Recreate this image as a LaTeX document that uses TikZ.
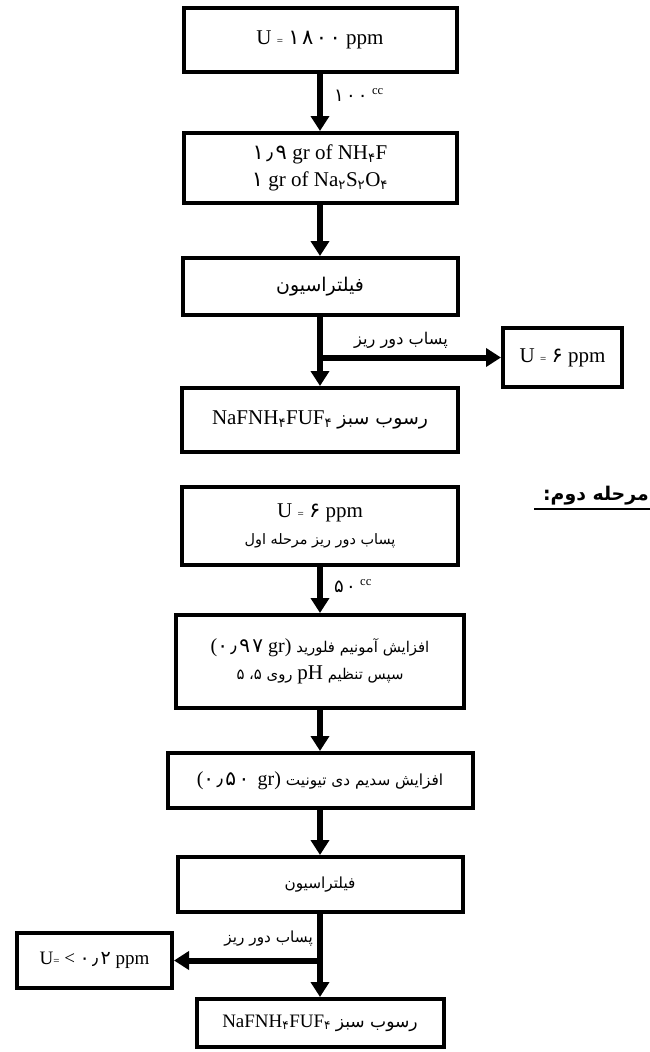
\documentclass[tikz,border=0pt]{standalone}
\usepackage{fontspec}
\setmainfont{Liberation Serif}
\newfontfamily\farsi[Script=Arabic,Scale=0.9]{DejaVu Sans}
\newfontfamily\farsinum[Script=Arabic,LetterSpace=12]{DejaVu Sans}
\TeXXeTstate=1
\usetikzlibrary{arrows.meta,positioning}

\newcommand{\fa}[1]{{\farsi #1}}
\newcommand{\num}[1]{{\farsinum #1}}
\newcommand{\subfa}[1]{\textsubscript{\farsi #1}}
\newcommand{\eq}{{\fontsize{11}{11}\selectfont =}}

\tikzset{
  box/.style={draw, line width=4pt, align=center, inner sep=2pt,
    font=\fontsize{21}{27}\selectfont},
  flow/.style={line width=6pt, -{Triangle[length=15pt,width=18pt]}},
  lbl/.style={inner sep=1pt, font=\fontsize{18}{20}\selectfont}
}

\begin{document}
\begin{tikzpicture}[x=1pt,y=1pt]
    \useasboundingbox (0,0) rectangle (650,-1052);
    % first stage
    \node[box, minimum width=273, minimum height=64] (src) at (320,-40)
        {U \eq{} \num{۱۸۰۰} ppm};
    \node[box, minimum width=273, minimum height=70] (reag) at (320,-168)
        {\num{۱٫۹} gr of NH\subfa{۴}F\\ \num{۱} gr of Na\subfa{۲}S\subfa{۲}O\subfa{۴}};
    \node[box, minimum width=275, minimum height=57] (filt) at (320,-286.5)
        {\fa{\beginR فیلتراسیون\endR}};
    \node[box, minimum width=119, minimum height=59] (waste) at (562.5,-357.5)
        {U \eq{} \num{۶} ppm};
    \node[box, minimum width=276, minimum height=64] (prec) at (320,-420)
        {NaFNH\subfa{۴}FUF\subfa{۴} \fa{\beginR رسوب سبز\endR}};
    \coordinate (b1) at (filt.south |- waste.west);
    \draw[flow] (src.south) -- (reag.north);
    \draw[flow] (reag.south) -- (filt.north);
    \draw[flow] (filt.south) -- (prec.north);
    \draw[flow] (b1) -- (waste.west);
    \node[lbl, anchor=west] (vol) at (333,-95) {\num{۱۰۰} \textsuperscript{cc}};
    \node[lbl] (out) at (401,-340) {\fa{\beginR پساب دور ریز\endR}};
    % second stage
    \node[inner sep=0pt, anchor=east, font=\fontsize{21}{22}\selectfont\bfseries]
        (stage) at (649,-496) {\fa{\beginR مرحله دوم:\endR}};
    \draw[line width=1.5pt] (534,-509) -- (650,-509);
    \node[box, minimum width=276, minimum height=78] (feed) at (320,-526)
        {U \eq{} \num{۶} ppm\\ {\farsi\fontsize{16}{25}\selectfont\beginR پساب دور ریز مرحله اول\endR}};
    \node[box, minimum width=288, minimum height=93] (addf) at (320,-661.5)
        {\fa{\fontsize{16.5}{27}\selectfont\beginR افزایش آمونیم فلورید
           \beginL{\rmfamily\fontsize{20}{27}\selectfont(\num{۰٫۹۷} gr)}\endL\endR}\\
         \fa{\fontsize{16.5}{27}\selectfont\beginR سپس تنظیم
           \beginL{\rmfamily\fontsize{21}{27}\selectfont pH}\endL{} روی ۵\kern0pt، ۵\endR}};
    \node[box, minimum width=305, minimum height=55] (adds) at (320,-780.5)
        {\fa{\fontsize{17}{20}\selectfont\beginR افزایش سدیم دی تیونیت
           \beginL{\rmfamily\fontsize{20}{20}\selectfont(\num{۰٫۵۰}\, gr)}\endL\endR}};
    \node[box, minimum width=285, minimum height=55] (filtb) at (320,-884.5)
        {\fa{\fontsize{17}{20}\selectfont\beginR فیلتراسیون\endR}};
    \node[box, minimum width=155, minimum height=55, font=\fontsize{19}{22}\selectfont]
        (wasteb) at (94.5,-960.5) {U\eq{} < \num{۰٫۲} ppm};
    \node[box, minimum width=247, minimum height=48, font=\fontsize{19}{22}\selectfont]
        (precb) at (320,-1023)
        {NaFNH\subfa{۴}FUF\subfa{۴} \fa{\beginR رسوب سبز\endR}};
    \coordinate (b2) at (filtb.south |- wasteb.east);
    \draw[flow] (feed.south) -- (addf.north);
    \draw[flow] (addf.south) -- (adds.north);
    \draw[flow] (adds.south) -- (filtb.north);
    \draw[flow] (filtb.south) -- (precb.north);
    \draw[flow] (b2) -- (wasteb.east);
    \node[lbl, anchor=west] (volb) at (333,-586) {\num{۵۰} \textsuperscript{cc}};
    \node[lbl, anchor=east, font=\fontsize{17}{20}\selectfont] (outb) at (314,-939)
        {\fa{\beginR پساب دور ریز\endR}};
\end{tikzpicture}
\end{document}
